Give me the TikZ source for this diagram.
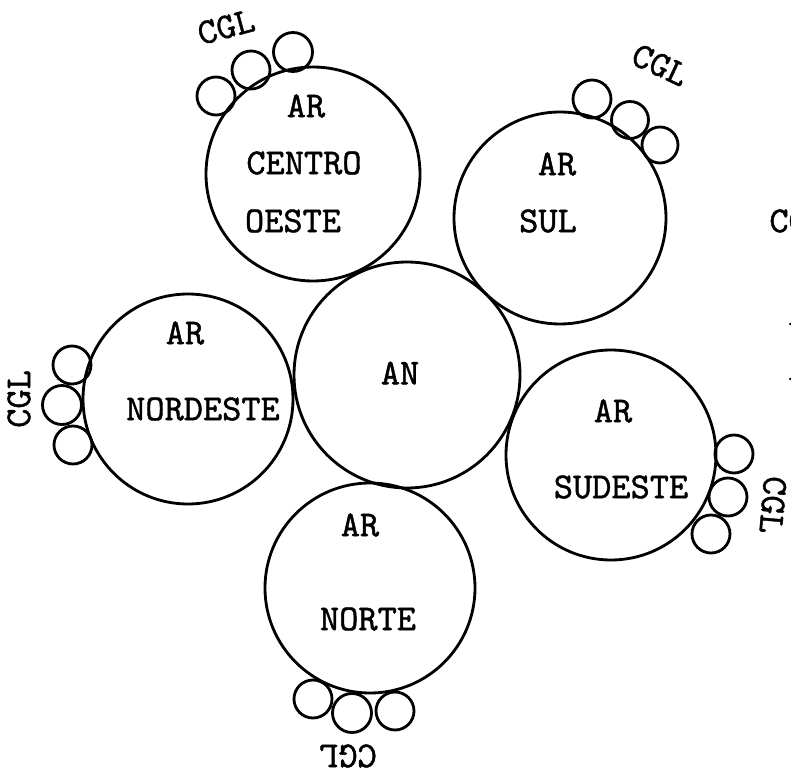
\documentclass[tikz,border=0pt]{standalone}
\usepackage{fontspec}
\newfontfamily\typew{lmmono10-regular.otf}[FakeBold=1.2]
\tikzset{
  lbl/.style={font=\typew\fontsize{26}{26}\selectfont, inner sep=0pt},
}
\begin{document}
\begin{tikzpicture}[x=0.025cm,y=-0.025cm,line width=2pt]
\useasboundingbox (0,0) rectangle (791,775);
% centres of the regions
\coordinate (an) at (407,375);
\coordinate (centro) at (313,174);
\coordinate (sul) at (560,218);
\coordinate (nordeste) at (188,399);
\coordinate (sudeste) at (611,455);
\coordinate (norte) at (370,588);
\draw (an) circle (113);
\draw (centro) circle (107);
\draw (sul) circle (106);
\draw (nordeste) circle (105);
\draw (sudeste) circle (105);
\draw (norte) circle (105);
% small circles
\draw (216,96) circle (19);
\draw (251,70) circle (19);
\draw (293,52) circle (19.5);
\draw (592,99) circle (19);
\draw (630,120) circle (18.5);
\draw (660,145) circle (18);
\draw (72,365) circle (19);
\draw (62,405) circle (19.5);
\draw (73,445) circle (19);
\draw (734,454) circle (19);
\draw (728,497) circle (19);
\draw (711,534) circle (19);
\draw (313,699) circle (19);
\draw (352,713) circle (19.5);
\draw (395,711) circle (19);
% labels
\node[lbl] (tan) at (400,373) {AN};
\node[lbl] (tco1) at (306,106) {AR};
\node[lbl] (tco2) at (304,163) {CENTRO};
\node[lbl] (tco3) at (293,221) {OESTE};
\node[lbl] (tsu1) at (557,164) {AR};
\node[lbl] (tsu2) at (548,221) {SUL};
\node[lbl] (tne1) at (185,333) {AR};
\node[lbl] (tne2) at (203,409) {NORDESTE};
\node[lbl] (tse1) at (613,411) {AR};
\node[lbl] (tse2) at (621,487) {SUDESTE};
\node[lbl] (tno1) at (360,525) {AR};
\node[lbl] (tno2) at (368,619) {NORTE};
\node[lbl,rotate=15] (cgl1) at (226,27) {CGL};
\node[lbl,rotate=-25] (cgl2) at (660,65) {CGL};
\node[lbl,rotate=90] (cgl3) at (19,399) {CGL};
\node[lbl,rotate=-95] (cgl4) at (773,505) {CGL};
\node[lbl,rotate=180] (cgl5) at (348,756) {CGL};
% text cut at the page edge
\node[lbl,anchor=west] (cut1) at (768,221) {CGL};
\node[lbl,anchor=south west] (cut2) at (787,327) {AR};
\node[lbl,anchor=south west] (cut3) at (787,382) {AR};
\end{tikzpicture}
\end{document}
